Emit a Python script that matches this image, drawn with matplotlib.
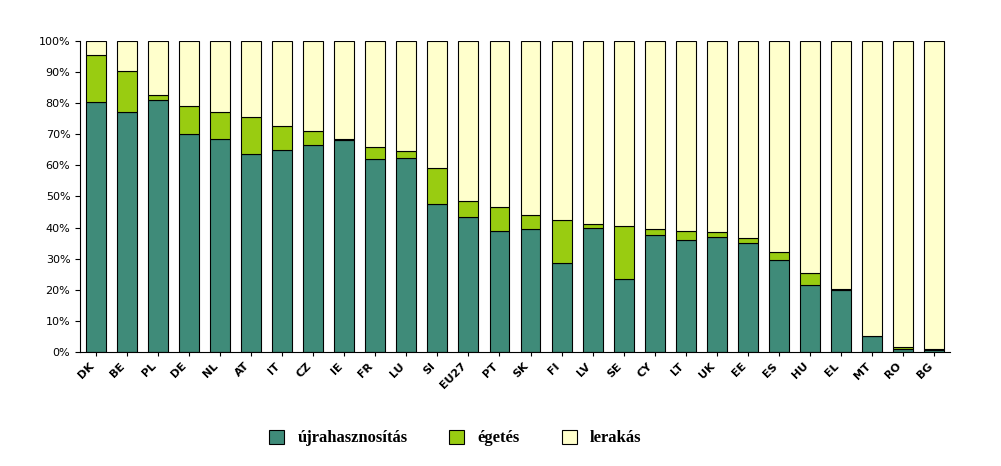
import matplotlib
matplotlib.use('Agg')
import matplotlib.pyplot as plt
import numpy as np

countries = ["DK", "BE", "PL", "DE", "NL", "AT", "IT", "CZ", "IE", "FR", "LU", "SI",
             "EU27", "PT", "SK", "FI", "LV", "SE", "CY", "LT", "UK", "EE", "ES", "HU",
             "EL", "MT", "RO", "BG"]
recycling = [80.5, 77, 81, 70, 68.5, 63.5, 65, 66.5, 68, 62, 62.5, 47.5,
             43.5, 39, 39.5, 28.5, 40, 23.5, 37.5, 36, 37, 35, 29.5, 21.5,
             20, 5, 1, 0.5]
incineration = [15, 13.5, 1.5, 9, 8.5, 12, 7.5, 4.5, 0.5, 4, 2, 11.5,
                5, 7.5, 4.5, 14, 1, 17, 2, 3, 1.5, 1.5, 2.5, 4,
                0.3, 0, 0.5, 0.3]
landfill = [100 - r - i for r, i in zip(recycling, incineration)]

fig = plt.figure(figsize=(10.01, 4.66), dpi=100)
ax = fig.add_axes([0.08, 0.245, 0.869, 0.667])
x = np.arange(len(countries))
w = 0.64
kw = dict(width=w, edgecolor='black', linewidth=0.8)
ax.bar(x, recycling, color='#3f8b79', label='újrahasznosítás', **kw)
ax.bar(x, incineration, bottom=recycling, color='#99cc11', label='égetés', **kw)
ax.bar(x, landfill, bottom=np.add(recycling, incineration), color='#ffffcc',
       label='lerakás', **kw)

ax.set_xlim(-0.5, len(countries) - 0.5)
ax.set_ylim(0, 100)
ax.set_yticks(range(0, 101, 10))
ax.set_yticklabels([f"{v}%" for v in range(0, 101, 10)], fontsize=8)
ax.set_xticks(x)
ax.set_xticklabels(countries, rotation=45, ha='right', fontsize=8, fontweight='bold')
ax.spines['top'].set_visible(False)
ax.spines['right'].set_visible(False)
ax.tick_params(axis='x', length=3)

fig.legend(loc='lower center', bbox_to_anchor=(0.455, 0.01), ncol=3, frameon=False,
           prop={'family': 'Liberation Serif', 'weight': 'bold', 'size': 12},
           handlelength=0.9, handleheight=0.9, columnspacing=2.5)
fig.savefig('out.png', dpi=100, facecolor='white')
